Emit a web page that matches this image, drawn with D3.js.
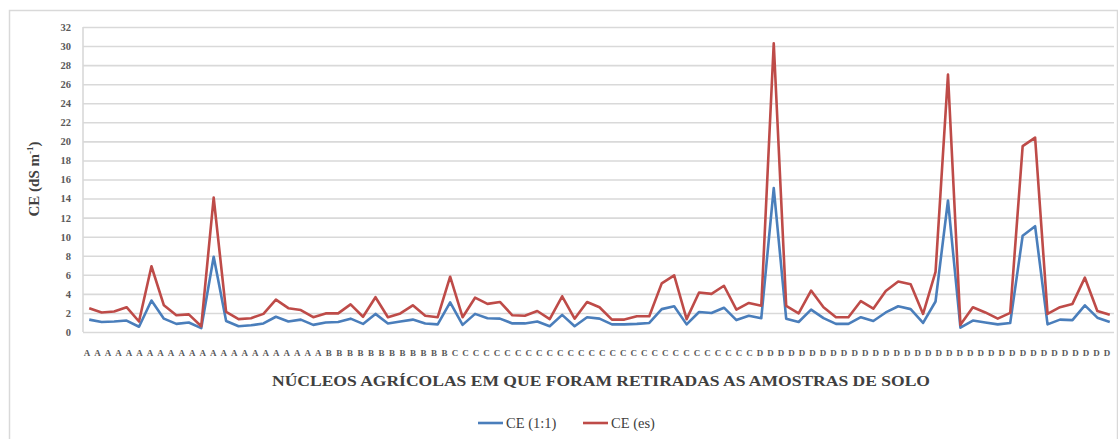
<!DOCTYPE html>
<html>
<head>
<meta charset="utf-8">
<script src="https://cdn.jsdelivr.net/npm/d3@7"></script>
<style>
  html, body { margin: 0; padding: 0; background: #fff; }
  svg { display: block; }
</style>
</head>
<body>
<div id="chart"></div>
<script>
// ---- data ----
const samples = d3.range(1, 84).map(String); // 83 soil samples
const ce11 = [1.3,1.05,1.1,1.2,0.55,3.3,1.4,0.85,1.0,0.4,7.9,1.15,0.6,0.7,0.9,1.6,1.1,1.3,0.75,1.0,
  1.05,1.4,0.85,1.9,0.9,1.1,1.3,0.9,0.8,3.1,0.75,1.9,1.45,1.4,0.9,0.9,1.1,0.6,1.8,0.6,
  1.55,1.4,0.8,0.8,0.85,0.95,2.4,2.7,0.8,2.1,2.0,2.55,1.25,1.7,1.45,15.1,1.4,1.05,2.35,1.45,
  0.85,0.85,1.55,1.15,2.05,2.7,2.4,0.95,3.2,13.8,0.45,1.2,1.0,0.8,0.95,10.1,11.1,0.8,1.3,1.25,
  2.8,1.5,1.05];
const ceEs = [2.5,2.05,2.15,2.6,1.1,6.9,2.8,1.75,1.85,0.6,14.1,2.1,1.35,1.45,1.9,3.4,2.5,2.3,1.55,1.95,
  1.95,2.9,1.6,3.65,1.55,1.95,2.8,1.7,1.55,5.8,1.55,3.6,2.95,3.15,1.75,1.7,2.2,1.35,3.75,1.4,
  3.15,2.6,1.3,1.3,1.65,1.65,5.1,5.95,1.35,4.15,4.0,4.85,2.35,3.05,2.75,30.3,2.75,1.95,4.35,2.6,
  1.55,1.55,3.25,2.45,4.3,5.3,5.0,1.9,6.3,27.0,0.75,2.6,2.05,1.4,2.0,19.5,20.4,1.9,2.6,2.95,
  5.7,2.2,1.8];
const groupCounts = [["A",23],["B",12],["C",29],["D",34]];
const tickLabels = groupCounts.flatMap(([g, n]) => d3.range(n).map(() => g));
const yTicks = d3.range(0, 33, 2);
const seriesNames = ["CE (1:1)", "CE (es)"];
const seriesColors = ["#4a7ebb", "#be4b48"];

// ---- layout ----
const W = 1118, H = 439;
const plot = { left: 83, right: 1114, top: 27, bottom: 332 };
const svg = d3.select("#chart").append("svg").attr("width", W).attr("height", H);

// outer frame
svg.append("rect").attr("x", 9.5).attr("y", 10.5).attr("width", 1108).attr("height", 440)
  .attr("fill", "#fff").attr("stroke", "#d9d9d9").attr("stroke-width", 1.5);

const x = d3.scalePoint().domain(samples).range([plot.left, plot.right + 2]).padding(0.5);
const y = d3.scaleLinear().domain([0, 32]).range([plot.bottom, plot.top]);

// gridlines + y axis labels
const yAxis = d3.axisLeft(y).tickValues(yTicks).tickSize(-(plot.right - plot.left)).tickPadding(12);
const gy = svg.append("g").attr("transform", `translate(${plot.left},0)`).call(yAxis);
gy.select(".domain").remove();
gy.selectAll(".tick line").attr("stroke", "#d9d9d9").attr("stroke-width", 1.6);
gy.selectAll(".tick text")
  .attr("font-family", "Liberation Serif, serif").attr("font-weight", "bold")
  .attr("font-size", 10.5).attr("fill", "#595959");

// left axis line
svg.append("line").attr("x1", plot.left).attr("x2", plot.left)
  .attr("y1", plot.top).attr("y2", plot.bottom).attr("stroke", "#d9d9d9").attr("stroke-width", 1.6);

// x tick labels (group letters)
const xl = d3.scalePoint().domain(d3.range(tickLabels.length)).range([87, 1107]);
svg.append("g").selectAll("text").data(tickLabels).join("text")
  .attr("x", (d, i) => xl(i)).attr("y", 356)
  .attr("text-anchor", "middle")
  .attr("font-family", "Liberation Serif, serif").attr("font-weight", "bold")
  .attr("font-size", 9).attr("fill", "#595959")
  .text(d => d);

// lines
const line = d3.line().x((d, i) => x(samples[i])).y(d => y(d));
[ce11, ceEs].forEach((s, k) => {
  svg.append("path").datum(s).attr("d", line)
    .attr("fill", "none").attr("stroke", seriesColors[k]).attr("stroke-width", 2.6)
    .attr("stroke-linejoin", "round");
});

// y axis title
const yt = svg.append("text")
  .attr("transform", "translate(39,179) rotate(-90)")
  .attr("text-anchor", "middle")
  .attr("font-family", "Liberation Serif, serif").attr("font-weight", "bold")
  .attr("font-size", 15).attr("fill", "#404040");
yt.append("tspan").text("CE (dS m");
yt.append("tspan").attr("dy", -6).attr("font-size", 9).text("-1");
yt.append("tspan").attr("dy", 6).text(")");

// x axis title
svg.append("text").attr("x", 272).attr("y", 386)
  .attr("textLength", 658).attr("lengthAdjust", "spacingAndGlyphs")
  .attr("font-family", "Liberation Serif, serif").attr("font-weight", "bold")
  .attr("font-size", 14.5).attr("fill", "#404040")
  .text("NÚCLEOS AGRÍCOLAS EM QUE FORAM RETIRADAS AS AMOSTRAS DE SOLO");

// legend
const legendX = [478, 583];
seriesNames.forEach((n, k) => {
  const g = svg.append("g").attr("transform", `translate(${legendX[k]},423)`);
  g.append("line").attr("x1", 0).attr("x2", 25).attr("stroke", seriesColors[k]).attr("stroke-width", 2.6);
  g.append("text").attr("x", 28).attr("y", 5)
    .attr("font-family", "Liberation Serif, serif").attr("font-size", 14.5).attr("fill", "#404040")
    .text(n);
});
</script>
</body>
</html>
